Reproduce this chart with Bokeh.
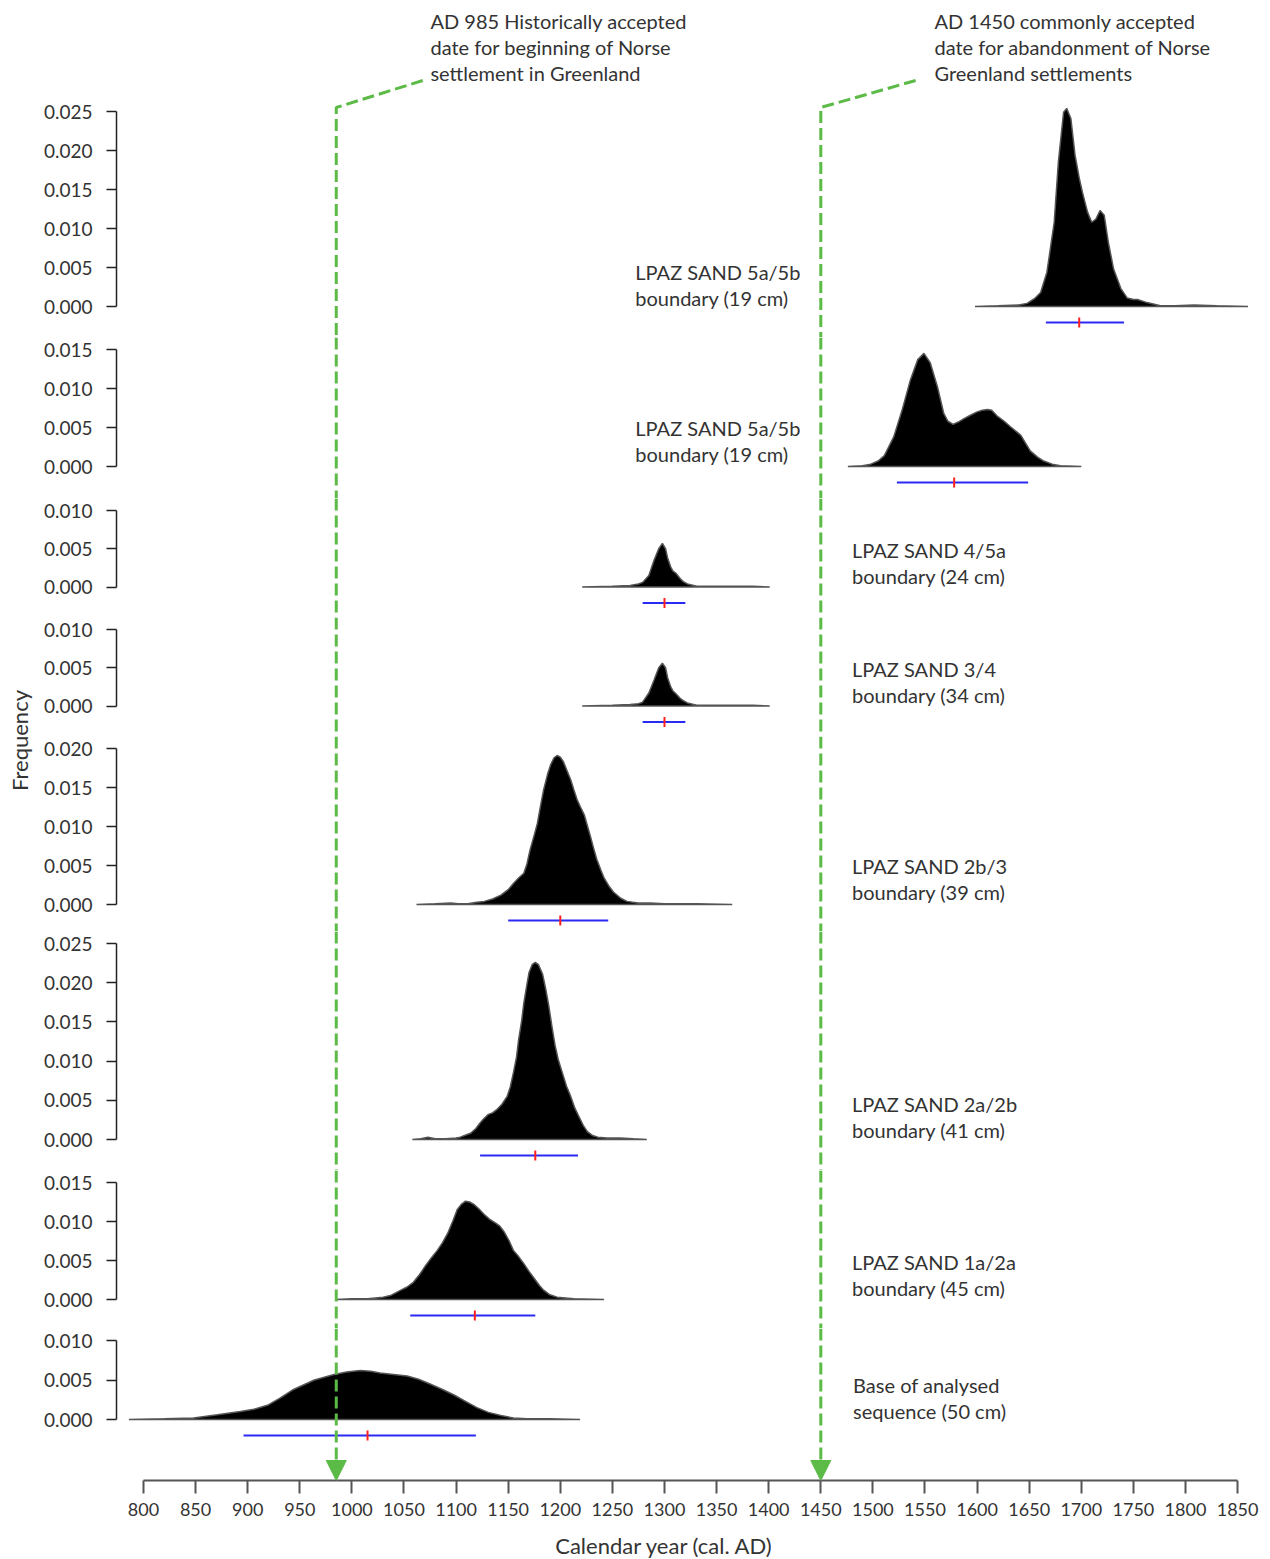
import numpy as np
from bokeh.plotting import figure
from bokeh.layouts import column, row
from bokeh.models import (Range1d, FixedTicker, Span, Arrow, NormalHead,
                          PrintfTickFormatter)
from bokeh.core.properties import value
from bokeh.embed import file_html
from bokeh.resources import INLINE

FONT = "Lato"
TEXT_COLOR = "#333333"
GREEN = "#5cba47"
BLUE = "#2a2af5"
RED = "#ff1f1f"

# ---------------------------------------------------------------------------
# Posterior density of each boundary (calendar year AD, probability)
# ---------------------------------------------------------------------------
years_5a5b_top = [1598, 1620, 1640, 1648, 1655, 1661, 1667, 1674, 1678, 1683, 1686, 1690,
                  1694, 1698, 1701, 1706, 1710, 1714, 1718, 1722, 1726, 1731, 1738, 1744,
                  1750, 1754, 1763, 1776, 1790, 1808, 1830, 1860]
dens_5a5b_top = [0, 0.0001, 0.0002, 0.0004, 0.0010, 0.0018, 0.0044, 0.0108, 0.0185, 0.0249,
                 0.0254, 0.0241, 0.0194, 0.0165, 0.0147, 0.0121, 0.0108, 0.0112, 0.0123,
                 0.0117, 0.0082, 0.0048, 0.0023, 0.0011, 0.0009, 0.0009, 0.0005, 0.0001,
                 0.0001, 0.0002, 0.0001, 0]

years_5a5b = [1476, 1490, 1498, 1505, 1511, 1520, 1528, 1536, 1543, 1549, 1555, 1562, 1568,
              1572, 1577, 1582, 1587, 1594, 1600, 1605, 1610, 1614, 1619, 1626, 1632, 1642,
              1651, 1658, 1664, 1672, 1680, 1700]
dens_5a5b = [0, 0.0001, 0.0003, 0.0007, 0.0014, 0.0038, 0.0072, 0.0111, 0.0137, 0.0145,
             0.0133, 0.0102, 0.0068, 0.0058, 0.0054, 0.0057, 0.0061, 0.0066, 0.0070, 0.0072,
             0.0073, 0.0072, 0.0065, 0.0058, 0.0051, 0.0040, 0.0020, 0.0012, 0.0007, 0.0003,
             0.0001, 0]

years_4_5a = [1221, 1250, 1267, 1275, 1279, 1285, 1290, 1294.5, 1298, 1301, 1303, 1306, 1308,
              1311, 1315, 1318, 1322, 1331, 1350, 1370, 1385, 1401]
dens_4_5a = [0, 0.0001, 0.0002, 0.0004, 0.0006, 0.0015, 0.0035, 0.0050, 0.0057, 0.0050,
             0.0038, 0.0026, 0.0021, 0.0018, 0.0011, 0.0007, 0.0004, 0.0001, 0.0001, 0.0001,
             0.0001, 0]

years_3_4 = [1221, 1250, 1267, 1275, 1279, 1285, 1290, 1294.5, 1298, 1301, 1303, 1306, 1308,
             1311, 1315, 1318, 1322, 1331, 1350, 1370, 1385, 1401]
dens_3_4 = [0, 0.0001, 0.0002, 0.0003, 0.0005, 0.0017, 0.0034, 0.0050, 0.0056, 0.0050,
            0.0037, 0.0025, 0.0020, 0.0016, 0.0010, 0.0007, 0.0004, 0.0001, 0.0001, 0.0001,
            0.0001, 0]

years_2b_3 = [1062, 1080, 1095, 1102, 1111, 1120, 1127, 1135, 1143, 1150, 1155, 1160, 1165,
              1168, 1171, 1175, 1178, 1181, 1184, 1188, 1191, 1194, 1197, 1200, 1203, 1206,
              1210, 1213, 1216, 1219, 1223, 1226, 1229, 1232, 1235, 1239, 1242, 1247, 1251,
              1258, 1264, 1275, 1286, 1300, 1330, 1365]
dens_2b_3 = [0, 0.0001, 0.0002, 0.0001, 0.0001, 0.0003, 0.0004, 0.0007, 0.0012, 0.0019,
             0.0027, 0.0034, 0.0040, 0.0052, 0.0070, 0.0089, 0.0104, 0.0126, 0.0147, 0.0168,
             0.0180, 0.0188, 0.0191, 0.0189, 0.0183, 0.0173, 0.0160, 0.0147, 0.0135, 0.0126,
             0.0115, 0.0101, 0.0087, 0.0072, 0.0058, 0.0044, 0.0034, 0.0023, 0.0016, 0.0008,
             0.0004, 0.0002, 0.0002, 0.0001, 0.0001, 0]

years_2a_2b = [1058, 1066, 1073, 1080, 1090, 1100, 1104, 1110, 1114, 1119, 1123, 1127, 1131,
               1135, 1139, 1144, 1149, 1152, 1155, 1158, 1160, 1163, 1165, 1168, 1170, 1173,
               1176, 1179, 1183, 1186, 1189, 1192, 1195, 1198, 1202, 1206, 1210, 1214, 1218,
               1222, 1226, 1231, 1236, 1245, 1258, 1270, 1283]
dens_2a_2b = [0, 0.0001, 0.0003, 0.0001, 0.0001, 0.0002, 0.0003, 0.0006, 0.0008, 0.0014,
              0.0021, 0.0027, 0.0032, 0.0034, 0.0038, 0.0045, 0.0055, 0.0067, 0.0085, 0.0105,
              0.0127, 0.0152, 0.0174, 0.0198, 0.0213, 0.0223, 0.0226, 0.0223, 0.0211, 0.0192,
              0.0170, 0.0144, 0.0120, 0.0102, 0.0085, 0.0068, 0.0055, 0.0040, 0.0029, 0.0018,
              0.0010, 0.0005, 0.0003, 0.0002, 0.0002, 0.0001, 0]

years_1a_2a = [984, 1000, 1015, 1030, 1037, 1047, 1053, 1059, 1065, 1071, 1076, 1082, 1087,
               1092, 1097, 1101, 1105, 1109, 1113, 1117, 1122, 1127, 1132, 1138, 1142, 1146,
               1151, 1155, 1160, 1165, 1170, 1175, 1180, 1184, 1190, 1197, 1213, 1242]
dens_1a_2a = [0, 0.0001, 0.0001, 0.0003, 0.0005, 0.0012, 0.0016, 0.0022, 0.0032, 0.0044,
              0.0053, 0.0063, 0.0073, 0.0085, 0.0101, 0.0115, 0.0122, 0.0126, 0.0125, 0.0122,
              0.0116, 0.0109, 0.0103, 0.0098, 0.0094, 0.0087, 0.0075, 0.0063, 0.0055, 0.0046,
              0.0036, 0.0027, 0.0018, 0.0012, 0.0006, 0.0003, 0.0001, 0]

years_base = [786, 820, 848, 871, 893, 906, 919, 931, 944, 954, 964, 983, 995, 1008, 1018,
              1027, 1040, 1053, 1064, 1075, 1087, 1098, 1109, 1120, 1131, 1143, 1155, 1168,
              1190, 1219]
dens_base = [0, 0.0001, 0.0002, 0.0006, 0.0010, 0.0013, 0.0018, 0.0027, 0.0038, 0.0044,
             0.0050, 0.0057, 0.0060, 0.0062, 0.0061, 0.0059, 0.0057, 0.0055, 0.0051, 0.0045,
             0.0038, 0.0031, 0.0023, 0.0015, 0.0009, 0.0005, 0.0002, 0.0001, 0.0001, 0]

# 95% range (low, high) and median of each boundary
range_low = [1666, 1523, 1279, 1279, 1150, 1123, 1056, 896]
range_high = [1741, 1649, 1320, 1320, 1246, 1217, 1176, 1119]
medians = [1698, 1578, 1300, 1300, 1200, 1176, 1118, 1015]

# Top of each panel's frequency axis
axis_max = [0.025, 0.015, 0.010, 0.010, 0.020, 0.025, 0.015, 0.010]

panel_titles = [
    ("LPAZ SAND 5a/5b", "boundary (19 cm)"),
    ("LPAZ SAND 5a/5b", "boundary (19 cm)"),
    ("LPAZ SAND 4/5a", "boundary (24 cm)"),
    ("LPAZ SAND 3/4", "boundary (34 cm)"),
    ("LPAZ SAND 2b/3", "boundary (39 cm)"),
    ("LPAZ SAND 2a/2b", "boundary (41 cm)"),
    ("LPAZ SAND 1a/2a", "boundary (45 cm)"),
    ("Base of analysed", "sequence (50 cm)"),
]

# Historical events marked with arrows
event_years = [985, 1450]
event_texts = [
    ["AD 985 Historically accepted", "date for beginning of Norse", "settlement in Greenland"],
    ["AD 1450 commonly accepted", "date for abandonment of Norse", "Greenland settlements"],
]

year_ticks = list(range(800, 1851, 50))

series = [
    (years_5a5b_top, dens_5a5b_top), (years_5a5b, dens_5a5b), (years_4_5a, dens_4_5a),
    (years_3_4, dens_3_4), (years_2b_3, dens_2b_3), (years_2a_2b, dens_2a_2b),
    (years_1a_2a, dens_1a_2a), (years_base, dens_base),
]

# ---------------------------------------------------------------------------
# Layout (page pixels)
# ---------------------------------------------------------------------------
PAGE_H = 1559
LEFT_STRIP = 36
FIG_W = 1270 - LEFT_STRIP
BORDER_L, BORDER_R = 116 - LEFT_STRIP, 8
X_AXIS_SPACE = 50
TITLE_STRIP_TOP = 1530
fig_top = [0, 337, 498, 617, 736, 931, 1170, 1328]
fig_bottom = [337, 498, 617, 736, 931, 1170, 1328, 1480]
top_tick_px = [111, 349, 510, 629, 748, 943, 1182, 1340]
zero_px = [306, 466, 586.5, 705.5, 904, 1139, 1299, 1419]
title_line2_px = [-9, -13, -11.5, -11.5, -13, -10, -12, -9]   # above the zero line
title_year = [1272, 1272, 1480, 1480, 1480, 1480, 1480, 1481]
RANGE_BAR_PX = 16
event_text_year = [1075.4, 1559.1]
leader_end_year = [1068, 1541]
event_line_px = [20, 46, 72]
LEADER_TOP_PX, LEADER_KINK_PX = 80, 107

x_range = Range1d(774.1, 1873.9)

panels = []
n = len(series)
for k in range(n):
    yrs, dens = series[k]
    ymax = axis_max[k]
    scale = (zero_px[k] - top_tick_px[k]) / ymax       # pixels per density unit
    y_end = (zero_px[k] - fig_top[k]) / scale
    y_start = -(fig_bottom[k] - zero_px[k]) / scale
    last = k == n - 1
    h = fig_bottom[k] - fig_top[k] + (X_AXIS_SPACE if last else 0)

    p = figure(width=FIG_W, height=h, x_range=x_range, y_range=Range1d(y_start, y_end),
               output_backend="svg", toolbar_location=None,
               x_axis_location="below" if last else None, y_axis_location="left",
               min_border_left=BORDER_L, min_border_right=BORDER_R,
               min_border_top=0, min_border_bottom=X_AXIS_SPACE if last else 0)
    p.outline_line_color = None
    p.grid.visible = False
    p.background_fill_color = "white"

    ya = p.yaxis[0]
    nt = int(round(ymax / 0.005))
    ya.ticker = FixedTicker(ticks=[round(i * 0.005, 3) for i in range(nt + 1)])
    ya.bounds = (0, ymax)
    ya.formatter = PrintfTickFormatter(format="%.3f")
    ya.major_tick_out = 10
    ya.major_tick_in = 0
    ya.minor_tick_out = 0
    ya.minor_tick_in = 0
    ya.axis_line_color = "#222222"
    ya.axis_line_width = 1.5
    ya.major_tick_line_color = "#222222"
    ya.major_tick_line_width = 1.5
    ya.major_label_text_font = FONT
    ya.major_label_text_font_size = "19px"
    ya.major_label_text_color = TEXT_COLOR
    ya.major_label_standoff = 14

    # density
    p.patch(yrs, dens, fill_color="black", line_color="#555555", line_width=1.5)

    # range bar and median
    yb = -RANGE_BAR_PX / scale
    p.segment(x0=[range_low[k]], y0=[yb], x1=[range_high[k]], y1=[yb],
              line_color=BLUE, line_width=2)
    p.scatter([medians[k]], [yb], marker="dash", angle=np.pi / 2, size=10,
              line_color=RED, line_width=2)

    # panel title
    l1, l2 = panel_titles[k]
    p.text(x=[title_year[k], title_year[k]], y=[0, 0], text=[l1, l2],
           y_offset=[title_line2_px[k] - 26, title_line2_px[k]],
           text_font=value(FONT), text_font_size="20px", text_color=TEXT_COLOR,
           text_align="left", text_baseline="middle")

    # event markers
    for e, ey in enumerate(event_years):
        style = dict(line_color=GREEN, line_width=3, line_dash="12 5")
        if k == 0:
            def to_y(py):
                return (zero_px[0] - py) / scale
            p.line([leader_end_year[e], ey, ey],
                   [to_y(LEADER_TOP_PX), to_y(LEADER_KINK_PX), y_start], **style)
            p.text(x=[event_text_year[e]] * 3, y=[to_y(py) for py in event_line_px],
                   text=event_texts[e], text_font=value(FONT), text_font_size="20px",
                   text_color=TEXT_COLOR, text_align="left", text_baseline="middle")
        else:
            p.add_layout(Span(location=ey, dimension="height", **style))
        if last:
            p.add_layout(Arrow(end=NormalHead(size=20, fill_color=GREEN, line_color=GREEN,
                                              line_width=1),
                               x_start=ey, y_start=y_start + 20 / scale,
                               x_end=ey, y_end=y_start, line_alpha=0))

    if last:
        xa = p.xaxis[0]
        xa.ticker = FixedTicker(ticks=year_ticks)
        xa.bounds = (800, 1850)
        xa.major_tick_out = 13
        xa.major_tick_in = 0
        xa.minor_tick_out = 0
        xa.minor_tick_in = 0
        xa.axis_line_color = "#555555"
        xa.axis_line_width = 2
        xa.major_tick_line_color = "#555555"
        xa.major_tick_line_width = 2
        xa.major_label_text_font = FONT
        xa.major_label_text_font_size = "18px"
        xa.major_label_text_color = TEXT_COLOR
        xa.major_label_standoff = 9
    panels.append(p)

# strip under the last panel carrying the calendar-year axis title
title_h = PAGE_H - TITLE_STRIP_TOP
xtitle = figure(width=FIG_W, height=title_h, x_range=x_range, y_range=Range1d(0, title_h),
                output_backend="svg", toolbar_location=None, x_axis_location=None,
                y_axis_location=None, min_border_left=BORDER_L, min_border_right=BORDER_R,
                min_border_top=0, min_border_bottom=0)
xtitle.outline_line_color = None
xtitle.grid.visible = False
xtitle.text(x=[1300], y=[PAGE_H - 1545], text=["Calendar year (cal. AD)"],
            text_font=value(FONT), text_font_size="22px", text_color=TEXT_COLOR,
            text_align="center", text_baseline="middle")

# strip carrying the shared "Frequency" axis title
strip = figure(width=LEFT_STRIP, height=PAGE_H, x_range=Range1d(0, LEFT_STRIP),
               y_range=Range1d(0, PAGE_H), output_backend="svg", toolbar_location=None,
               x_axis_location=None, y_axis_location=None, min_border=0)
strip.outline_line_color = None
strip.grid.visible = False
strip.text(x=[19], y=[PAGE_H - 740], text=["Frequency"], angle=np.pi / 2,
           text_font=value(FONT), text_font_size="22px", text_color=TEXT_COLOR,
           text_align="center", text_baseline="middle")

layout = row(strip, column(*panels, xtitle, spacing=0), spacing=0)

open("out.html", "w").write(file_html(layout, INLINE))
